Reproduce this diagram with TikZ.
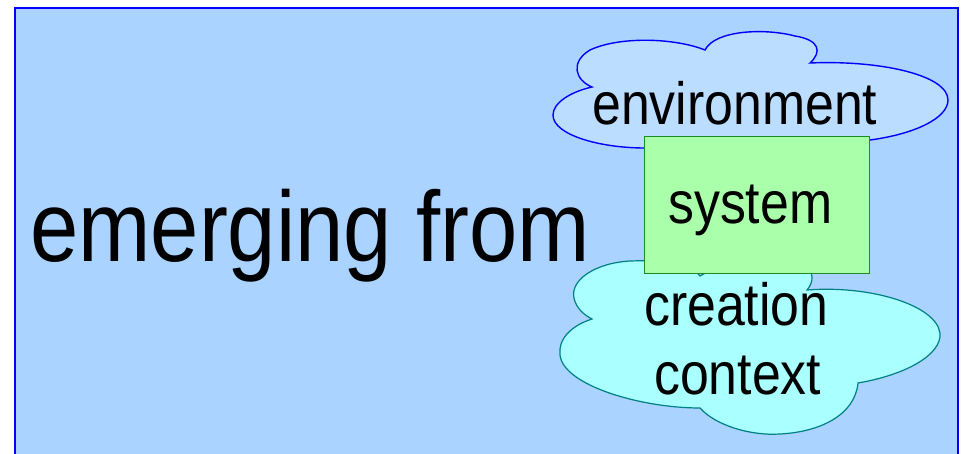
\documentclass[tikz,border=0pt]{standalone}
\usepackage{fontspec}
\usepackage{graphicx}
\setmainfont{Liberation Sans}
\definecolor{bgblue}{RGB}{170,212,255}
\definecolor{envfill}{RGB}{187,221,255}
\definecolor{crefill}{RGB}{170,255,255}
\definecolor{creline}{RGB}{0,128,128}
\definecolor{sysfill}{RGB}{170,255,170}
\definecolor{sysline}{RGB}{30,140,30}
\tikzset{
  lbl/.style={inner sep=0pt, anchor=base west, font=\fontsize{51.8}{60}\selectfont},
  biglbl/.style={inner sep=0pt, anchor=base west, font=\fontsize{86.8}{100}\selectfont},
}
\newcommand{\vstretch}[1]{\scalebox{1}[1.15]{#1}}
\begin{document}
\begin{tikzpicture}[x=1pt,y=-1pt]
\useasboundingbox (0,0) rectangle (962,453);
\clip (0,0) rectangle (962,453);
\fill[white] (0,0) rectangle (962,453);
% outer frame
\draw[blue, line width=1.6pt, fill=bgblue] (15,8) rectangle (958,480);
% environment cloud
\draw[blue, line width=1.4pt, fill=envfill]
  (592,87) .. controls (570,92) and (553,103) .. (553,115)
  .. controls (553,135) and (600,148) .. (645,148)
  -- (870,140)
  .. controls (915,134) and (948,118) .. (948,100)
  .. controls (948,75) and (880,60) .. (810,63)
  .. controls (822,52) and (820,40) .. (795,36)
  .. controls (765,28) and (715,30) .. (705,50)
  .. controls (675,38) and (620,36) .. (590,50)
  .. controls (570,62) and (575,80) .. (592,87) -- cycle;
% creation context cloud
\draw[creline, line width=1.2pt, fill=crefill]
  (592,319) .. controls (570,326) and (558,340) .. (560,355)
  .. controls (563,385) and (640,408) .. (700,408)
  .. controls (715,425) and (750,436) .. (780,434)
  .. controls (820,432) and (855,415) .. (858,383)
  .. controls (905,375) and (942,355) .. (940,333)
  .. controls (936,305) and (870,285) .. (807,290)
  .. controls (814,282) and (814,272) .. (805,265)
  .. controls (780,255) and (730,258) .. (700,276)
  .. controls (690,262) and (660,260) .. (630,261)
  .. controls (595,263) and (570,280) .. (574,298)
  .. controls (576,308) and (584,315) .. (592,319) -- cycle;
% system box
\node[draw=sysline, line width=1.2pt, fill=sysfill, minimum width=225pt, minimum height=137pt, inner sep=0pt, anchor=north west] (sys) at (644,136) {};
% texts
\node[biglbl] (emerg) at (30,261) {\vstretch{emerging from}};
\node[lbl] (env) at (592,124) {\vstretch{environment}};
\node[lbl] (systxt) at (668,223) {\vstretch{system}};
\node[lbl] (crea) at (644,325) {\vstretch{creation}};
\node[lbl] (ctx) at (654,394) {\vstretch{context}};
\end{tikzpicture}
\end{document}
